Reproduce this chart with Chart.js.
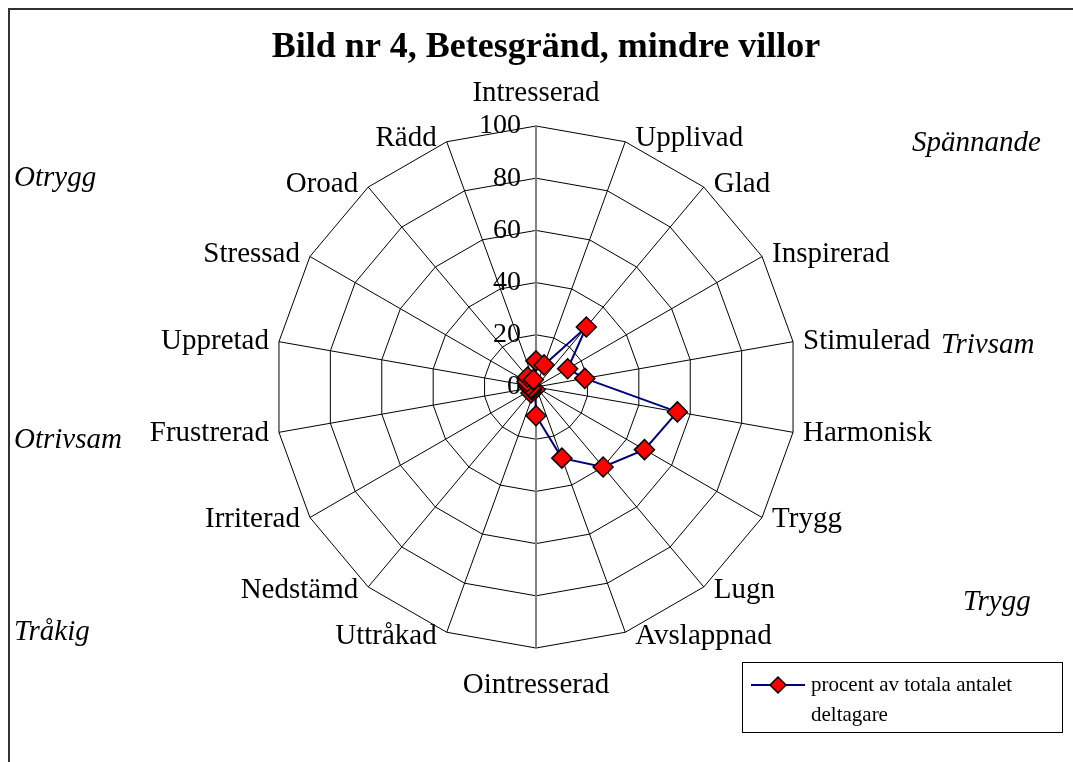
<!DOCTYPE html>
<html>
<head>
<meta charset="utf-8">
<title>Bild nr 4, Betesgränd, mindre villor</title>
<script src="https://cdn.jsdelivr.net/npm/chart.js@4.4.0/dist/chart.umd.min.js"></script>
<style>
  html, body { margin: 0; padding: 0; background: #fff; }
  canvas { display: block; }
</style>
</head>
<body>
<canvas id="radar" width="1073" height="762"></canvas>
<script>
const chartTitle = 'Bild nr 4, Betesgränd, mindre villor';

// categories round the radar, clockwise from the top
const categories = ['Intresserad', 'Upplivad', 'Glad', 'Inspirerad', 'Stimulerad', 'Harmonisk',
  'Trygg', 'Lugn', 'Avslappnad', 'Ointresserad', 'Uttråkad', 'Nedstämd',
  'Irriterad', 'Frustrerad', 'Uppretad', 'Stressad', 'Oroad', 'Rädd'];

// procent av totala antalet deltagare
const procent = [10, 9, 30, 14, 19, 55, 48, 40, 29, 11, 1, 3, 2, 2, 3, 4, 5, 3];

const tickValues = [0, 20, 40, 60, 80, 100];

const seriesName = ['procent av totala antalet', 'deltagare'];

// italic words in the corners of the picture
const cornerWords = ['Otrygg', 'Spännande', 'Trivsam', 'Otrivsam', 'Tråkig', 'Trygg'];
const cornerPlaces = [[14, 178], [912, 143], [941, 345], [14, 440], [14, 632], [963, 602]];

const serif = '"Liberation Serif", "Times New Roman", serif';

// red diamond with black edge, same as the series marker
function diamond(ctx, x, y, r) {
  ctx.fillStyle = '#ff0000';
  ctx.strokeStyle = '#000';
  ctx.lineWidth = 1.5;
  ctx.beginPath();
  ctx.moveTo(x - r, y);
  ctx.lineTo(x, y - r);
  ctx.lineTo(x + r, y);
  ctx.lineTo(x, y + r);
  ctx.closePath();
  ctx.fill();
  ctx.stroke();
}

// draws the title, ticks, category names, corner words, legend and frame
const excelLook = {
  id: 'excelLook',
  beforeDatasetsDraw(chart) {
    const ctx = chart.ctx;
    const scale = chart.scales.r;
    ctx.save();
    ctx.fillStyle = '#000';
    ctx.textBaseline = 'middle';

    // title
    ctx.textAlign = 'center';
    ctx.font = 'bold 36px ' + serif;
    ctx.fillText(chartTitle, 546, 48);

    // value labels left of the vertical axis
    ctx.font = '28px ' + serif;
    ctx.textAlign = 'right';
    tickValues.forEach(v => {
      const y = scale.yCenter - scale.getDistanceFromCenterForValue(v);
      ctx.fillText(String(v), scale.xCenter - 15, y);
    });

    // category labels just outside the outer ring
    ctx.font = '29px ' + serif;
    categories.forEach((name, i) => {
      const p = scale.getPointPosition(i, scale.drawingArea);
      const deg = i * 360 / categories.length;
      if (deg === 0) {
        ctx.textAlign = 'center';
        ctx.fillText(name, p.x, p.y - 33);
      } else if (deg === 180) {
        ctx.textAlign = 'center';
        ctx.fillText(name, p.x, p.y + 37);
      } else if (deg < 180) {
        ctx.textAlign = 'left';
        ctx.fillText(name, p.x + 10, p.y - 4 * Math.cos(deg * Math.PI / 180));
      } else {
        ctx.textAlign = 'right';
        ctx.fillText(name, p.x - 10, p.y - 4 * Math.cos(deg * Math.PI / 180));
      }
    });
    ctx.restore();
  },
  afterDraw(chart) {
    const ctx = chart.ctx;
    ctx.save();
    ctx.fillStyle = '#000';
    ctx.textBaseline = 'middle';
    ctx.textAlign = 'left';

    // corner words
    ctx.font = 'italic 29px ' + serif;
    cornerWords.forEach((w, i) => {
      ctx.fillText(w, cornerPlaces[i][0], cornerPlaces[i][1]);
    });

    // legend box
    ctx.fillStyle = '#fff';
    ctx.fillRect(742, 662, 321, 70);
    ctx.strokeStyle = '#000';
    ctx.lineWidth = 1;
    ctx.strokeRect(742.5, 662.5, 320, 70);
    ctx.strokeStyle = '#000080';
    ctx.lineWidth = 2;
    ctx.beginPath();
    ctx.moveTo(751, 685);
    ctx.lineTo(805, 685);
    ctx.stroke();
    diamond(ctx, 778, 685, 8);
    ctx.fillStyle = '#000';
    ctx.font = '21px ' + serif;
    ctx.fillText(seriesName[0], 811, 685);
    ctx.fillText(seriesName[1], 811, 715);

    // frame (top and left edge of the chart object)
    ctx.strokeStyle = '#333';
    ctx.lineWidth = 2;
    ctx.beginPath();
    ctx.moveTo(1073, 9);
    ctx.lineTo(9, 9);
    ctx.lineTo(9, 762);
    ctx.stroke();
    ctx.restore();
  }
};

const ctx = document.getElementById('radar').getContext('2d');
new Chart(ctx, {
  type: 'radar',
  data: {
    labels: categories,
    datasets: [{
      label: seriesName.join(' '),
      data: procent,
      borderColor: '#000080',
      borderWidth: 2,
      fill: false,
      pointStyle: 'rectRot',
      pointRadius: 10,
      pointHoverRadius: 10,
      pointBackgroundColor: '#ff0000',
      pointBorderColor: '#000',
      pointBorderWidth: 1.5,
      tension: 0
    }]
  },
  plugins: [excelLook],
  options: {
    responsive: false,
    animation: false,
    devicePixelRatio: 1,
    layout: { padding: { left: 275, right: 275, top: 126, bottom: 113 } },
    plugins: {
      legend: { display: false },
      tooltip: { enabled: false },
      title: { display: false }
    },
    scales: {
      r: {
        min: 0,
        max: 100,
        ticks: { stepSize: 20, display: false },
        pointLabels: { display: false },
        grid: { circular: false, color: '#000', lineWidth: 1 },
        angleLines: {
          color: c => (c.index === 0 || c.index === 9) ? '#808080' : '#000',
          lineWidth: c => (c.index === 0 || c.index === 9) ? 2 : 1
        }
      }
    }
  }
});
</script>
</body>
</html>
